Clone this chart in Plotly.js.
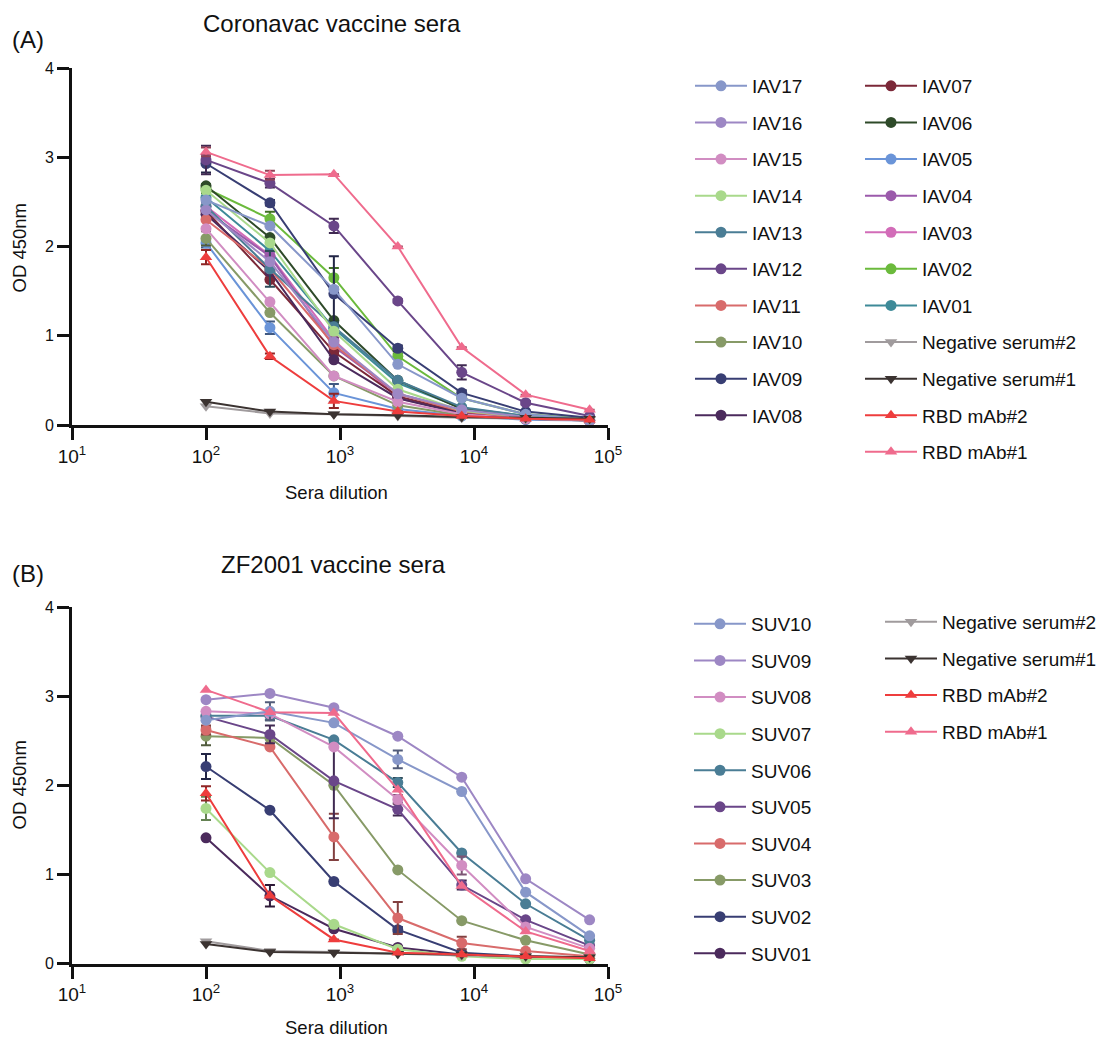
<!DOCTYPE html>
<html><head><meta charset="utf-8">
<script src="https://cdn.plot.ly/plotly-3.0.1.min.js"></script>
<style>html,body{margin:0;padding:0;background:#fff}#chart{width:1097px;height:1039px}</style>
</head><body><div id="chart"></div>
<script>
// ---------- DATA ----------
const dilution = [100, 300, 900, 2700, 8100, 24300, 72900];
const xTickVals = [10, 100, 1000, 10000, 100000];
const xTickText = ['10<sup>1</sup>', '10<sup>2</sup>', '10<sup>3</sup>', '10<sup>4</sup>', '10<sup>5</sup>'];
const yTickVals = [0, 1, 2, 3, 4];

// Panel A: Coronavac vaccine sera
const legendA1 = ['IAV17', 'IAV16', 'IAV15', 'IAV14', 'IAV13', 'IAV12', 'IAV11', 'IAV10', 'IAV09', 'IAV08'];
const legendA2 = ['IAV07', 'IAV06', 'IAV05', 'IAV04', 'IAV03', 'IAV02', 'IAV01', 'Negative serum#2', 'Negative serum#1', 'RBD mAb#2', 'RBD mAb#1'];
const IAV17 = [2.52, 2.23, 1.52, 0.68, 0.30, 0.12, 0.06];
const IAV16 = [2.41, 1.83, 0.93, 0.35, 0.17, 0.09, 0.05];
const IAV15 = [2.20, 1.38, 0.55, 0.26, 0.12, 0.07, 0.05];
const IAV14 = [2.63, 2.04, 1.05, 0.40, 0.16, 0.09, 0.05];
const IAV13 = [2.45, 1.75, 1.10, 0.50, 0.20, 0.10, 0.06];
const IAV12 = [2.97, 2.71, 2.23, 1.39, 0.59, 0.25, 0.10];
const IAV11 = [2.30, 1.75, 0.90, 0.35, 0.15, 0.08, 0.05];
const IAV10 = [2.09, 1.26, 0.55, 0.22, 0.11, 0.07, 0.05];
const IAV09 = [2.93, 2.49, 1.47, 0.86, 0.36, 0.15, 0.08];
const IAV08 = [2.36, 1.72, 0.73, 0.30, 0.13, 0.07, 0.05];
const IAV07 = [2.40, 1.63, 0.82, 0.32, 0.14, 0.08, 0.05];
const IAV06 = [2.68, 2.10, 1.17, 0.50, 0.18, 0.09, 0.06];
const IAV05 = [2.04, 1.09, 0.36, 0.18, 0.10, 0.06, 0.05];
const IAV04 = [2.40, 1.89, 0.88, 0.35, 0.16, 0.09, 0.05];
const IAV03 = [2.45, 1.90, 0.95, 0.30, 0.14, 0.08, 0.05];
const IAV02 = [2.65, 2.31, 1.65, 0.77, 0.30, 0.12, 0.07];
const IAV01 = [2.55, 1.95, 1.08, 0.47, 0.19, 0.10, 0.06];
const negA2 = [0.21, 0.13, 0.12, 0.10, 0.08, 0.07, 0.06];
const negA1 = [0.26, 0.15, 0.12, 0.11, 0.09, 0.08, 0.07];
const rbdA2 = [1.88, 0.77, 0.27, 0.15, 0.10, 0.07, 0.06];
const rbdA1 = [3.06, 2.80, 2.81, 2.00, 0.87, 0.34, 0.17];
// error bars (SEM) panel A
const errIAV12 = [0.16, 0.05, 0.08, 0.02, 0.08, 0.02, 0];
const errIAV09 = [0.10, 0.03, 0.42, 0.03, 0.03, 0, 0];
const errIAV02 = [0.05, 0.08, 0.11, 0.03, 0, 0, 0];
const errIAV10 = [0.08, 0, 0, 0, 0, 0, 0];
const errIAV05 = [0.05, 0.07, 0.10, 0, 0, 0, 0];
const errIAV13 = [0.05, 0.20, 0.05, 0, 0, 0, 0];
const errIAV04 = [0, 0, 0.10, 0, 0, 0, 0];
const errRbdA1 = [0.05, 0.05, 0, 0, 0, 0, 0];
const errRbdA2 = [0.08, 0.03, 0.08, 0, 0, 0, 0];

// Panel B: ZF2001 vaccine sera
const legendB1 = ['SUV10', 'SUV09', 'SUV08', 'SUV07', 'SUV06', 'SUV05', 'SUV04', 'SUV03', 'SUV02', 'SUV01'];
const legendB2 = ['Negative serum#2', 'Negative serum#1', 'RBD mAb#2', 'RBD mAb#1'];
const SUV10 = [2.73, 2.83, 2.70, 2.29, 1.93, 0.80, 0.31];
const SUV09 = [2.96, 3.03, 2.87, 2.55, 2.09, 0.95, 0.49];
const SUV08 = [2.83, 2.80, 2.43, 1.84, 1.10, 0.41, 0.17];
const SUV07 = [1.74, 1.02, 0.44, 0.16, 0.08, 0.05, 0.05];
const SUV06 = [2.78, 2.78, 2.51, 2.03, 1.24, 0.67, 0.26];
const SUV05 = [2.77, 2.57, 2.05, 1.73, 0.88, 0.49, 0.20];
const SUV04 = [2.62, 2.43, 1.42, 0.51, 0.23, 0.14, 0.08];
const SUV03 = [2.55, 2.53, 2.00, 1.05, 0.48, 0.26, 0.10];
const SUV02 = [2.21, 1.72, 0.92, 0.38, 0.12, 0.08, 0.06];
const SUV01 = [1.41, 0.76, 0.39, 0.18, 0.10, 0.07, 0.05];
const negB2 = [0.25, 0.14, 0.13, 0.11, 0.09, 0.08, 0.07];
const negB1 = [0.22, 0.13, 0.12, 0.11, 0.10, 0.08, 0.07];
const rbdB2 = [1.91, 0.76, 0.27, 0.12, 0.10, 0.08, 0.06];
const rbdB1 = [3.07, 2.82, 2.81, 1.95, 0.87, 0.36, 0.14];
// error bars panel B
const errSUV02 = [0.14, 0, 0, 0.03, 0, 0, 0];
const errSUV01 = [0, 0.12, 0, 0, 0, 0, 0];
const errSUV03 = [0.10, 0, 0, 0, 0, 0, 0];
const errSUV07 = [0.13, 0, 0, 0, 0, 0, 0];
const errSUV04 = [0.05, 0, 0.26, 0.18, 0.07, 0, 0];
const errSUV05 = [0.05, 0.10, 0.42, 0.07, 0.05, 0, 0];
const errSUV10 = [0, 0.10, 0, 0.10, 0, 0, 0];
const errSUV06 = [0.05, 0.05, 0, 0.05, 0, 0, 0];
const errSUV08 = [0, 0, 0, 0.05, 0.10, 0, 0];
const errRbdB2 = [0.08, 0, 0, 0, 0, 0, 0];

// ---------- STYLE ----------
const palette = ['#8797c9', '#9d87c4', '#d18dc2', '#a9d98b', '#4a7d95', '#6a4689', '#d86b6b', '#879a67', '#383e73', '#4b2a5c',
                 '#7b2838', '#2e4a29', '#6a94d8', '#9b5aab', '#d26cb8', '#6bba3c', '#3e8a98'];
const ctrlColors = {'Negative serum#2': '#a09b9d', 'Negative serum#1': '#3b3331', 'RBD mAb#2': '#ee3d3d', 'RBD mAb#1': '#ef6b8d'};
const ctrlSymbols = {'Negative serum#2': 'triangle-down', 'Negative serum#1': 'triangle-down', 'RBD mAb#2': 'triangle-up', 'RBD mAb#1': 'triangle-up'};
const FONT = 'Arial, "Liberation Sans", Helvetica, sans-serif';

function darken(hex, f) {
  const n = parseInt(hex.slice(1), 16);
  const r = Math.round(((n >> 16) & 255) * f), g = Math.round(((n >> 8) & 255) * f), b = Math.round((n & 255) * f);
  return 'rgb(' + r + ',' + g + ',' + b + ')';
}

function mkTrace(name, y, err, color, symbol, xa, ya, legend, rank) {
  const t = {
    type: 'scatter', mode: 'lines+markers', name: name, x: dilution, y: y,
    xaxis: xa, yaxis: ya, legend: legend, legendgroup: legend + name, legendrank: rank,
    line: {color: color, width: 2},
    marker: {color: color, size: 11, symbol: symbol},
    cliponaxis: false
  };
  if (err) t.error_y = {type: 'data', array: err, visible: true, color: darken(color, 0.6), thickness: 2, width: 5};
  return t;
}

const seriesA = {IAV17, IAV16, IAV15, IAV14, IAV13, IAV12, IAV11, IAV10, IAV09, IAV08, IAV07, IAV06, IAV05, IAV04, IAV03, IAV02, IAV01,
  'Negative serum#2': negA2, 'Negative serum#1': negA1, 'RBD mAb#2': rbdA2, 'RBD mAb#1': rbdA1};
const errA = {IAV12: errIAV12, IAV09: errIAV09, IAV02: errIAV02, IAV10: errIAV10, IAV05: errIAV05, IAV13: errIAV13, IAV04: errIAV04,
  'RBD mAb#1': errRbdA1, 'RBD mAb#2': errRbdA2};
const seriesB = {SUV10, SUV09, SUV08, SUV07, SUV06, SUV05, SUV04, SUV03, SUV02, SUV01,
  'Negative serum#2': negB2, 'Negative serum#1': negB1, 'RBD mAb#2': rbdB2, 'RBD mAb#1': rbdB1};
const errB = {SUV02: errSUV02, SUV01: errSUV01, SUV03: errSUV03, SUV07: errSUV07, SUV04: errSUV04, SUV05: errSUV05,
  SUV10: errSUV10, SUV06: errSUV06, SUV08: errSUV08, 'RBD mAb#2': errRbdB2};

const traces = [];
const orderA = legendA1.concat(legendA2);
const drawA = orderA.slice().reverse().filter(n => !ctrlColors[n]).concat(['Negative serum#2', 'Negative serum#1', 'RBD mAb#2', 'RBD mAb#1']);
drawA.forEach(n => {
  const i = orderA.indexOf(n);
  const color = ctrlColors[n] || palette[i];
  const sym = ctrlSymbols[n] || 'circle';
  const leg = legendA1.includes(n) ? 'legend' : 'legend2';
  traces.push(mkTrace(n, seriesA[n], errA[n], color, sym, 'x', 'y', leg, i + 1));
});
const orderB = legendB1.concat(legendB2);
const drawB = legendB1.slice().reverse().concat(legendB2);
drawB.forEach(n => {
  const i = orderB.indexOf(n);
  const color = ctrlColors[n] || palette[i];
  const sym = ctrlSymbols[n] || 'circle';
  const leg = legendB1.includes(n) ? 'legend3' : 'legend4';
  traces.push(mkTrace(n, seriesB[n], errB[n], color, sym, 'x2', 'y2', leg, i + 1));
});

const W = 1097, H = 1039;
const px = v => v / W, py = v => 1 - v / H;

function xAxis(anchor) {
  return {type: 'log', range: [1, 5], domain: [px(72), px(608)], anchor: anchor,
    showline: true, linecolor: '#111', linewidth: 3, ticks: 'outside', ticklen: 12, tickwidth: 3, tickcolor: '#111',
    tickvals: xTickVals, ticktext: xTickText, tickfont: {family: FONT, size: 19, color: '#111'},
    showgrid: false, zeroline: false, fixedrange: true};
}
function yAxis(anchor, dom) {
  return {range: [0, 4], domain: dom, anchor: anchor,
    showline: true, linecolor: '#111', linewidth: 3, ticks: 'outside', ticklen: 12, tickwidth: 3, tickcolor: '#111',
    tickvals: yTickVals, tickfont: {family: FONT, size: 16, color: '#111'},
    showgrid: false, zeroline: false, fixedrange: true};
}
function legendAt(x, y) {
  return {x: px(x), y: py(y), xanchor: 'left', yanchor: 'top', font: {family: FONT, size: 19, color: '#111'},
    tracegroupgap: 8.9, itemwidth: 52, bgcolor: 'rgba(0,0,0,0)', borderwidth: 0, traceorder: 'grouped'};
}
const ann = (text, x, y, size, extra) => Object.assign({text: text, x: px(x), y: py(y), xref: 'paper', yref: 'paper',
  showarrow: false, xanchor: 'center', yanchor: 'middle', font: {family: FONT, size: size, color: '#111'}}, extra || {});

const layout = {
  width: W, height: H, margin: {l: 0, r: 0, t: 0, b: 0, autoexpand: false},
  paper_bgcolor: '#fff', plot_bgcolor: 'rgba(0,0,0,0)', showlegend: true,
  font: {family: FONT, color: '#111'},
  xaxis: xAxis('y'), yaxis: yAxis('x', [py(425), py(68)]),
  xaxis2: xAxis('y2'), yaxis2: yAxis('x2', [py(963.5), py(607)]),
  legend: legendAt(690, 67), legend2: legendAt(860, 67),
  legend3: legendAt(689, 605), legend4: legendAt(880, 603),
  annotations: [
    ann('(A)', 28, 40, 24), ann('Coronavac vaccine sera', 332, 23, 24),
    ann('OD 450nm', 18.5, 248, 18.5, {textangle: -90}), ann('Sera dilution', 336, 492, 18.5),
    ann('(B)', 28, 573, 24), ann('ZF2001 vaccine sera', 333, 564, 24),
    ann('OD 450nm', 18.5, 785, 18.5, {textangle: -90}), ann('Sera dilution', 336, 1027, 18.5)
  ]
};
Plotly.newPlot('chart', traces, layout, {displayModeBar: false, staticPlot: true});
</script></body></html>
